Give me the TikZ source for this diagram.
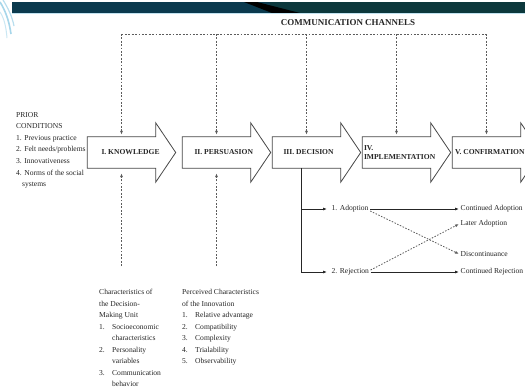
\documentclass[tikz,border=0pt]{standalone}
\usepackage{fontspec}
\setmainfont{Liberation Serif}
\usepackage{xcolor}
\usetikzlibrary{positioning,arrows.meta}
\definecolor{bar}{HTML}{0B3A4E}
\definecolor{barright}{HTML}{0C383C}
\definecolor{swirl}{HTML}{A6D6EA}
\definecolor{ink}{HTML}{262626}
\newcommand{\listno}[1]{\makebox[13bp][l]{#1.}}
\newcommand{\stagearrow}[1]{%
  \draw[ink!85, line width=0.8bp, fill=white] (#1.north east) -- ++(0,-14) -- ([xshift=20bp]#1.east)
    -- ([yshift=-14bp]#1.south east) -- (#1.south east) -- (#1.south west) -- (#1.north west) -- cycle;}
\tikzset{
  stagebody/.style={minimum width=68bp, minimum height=31bp, inner sep=0pt},
  stagetext/.style={font=\fontsize{7.6}{9}\selectfont\bfseries, text=ink, inner sep=0pt, align=left},
  small/.style={font=\fontsize{7.6}{11.6}\selectfont, text=ink, inner sep=1.5bp, align=left},
  flow/.style={draw=ink, line width=0.8bp, -{Latex[length=4bp,width=3bp]}},
  channel/.style={draw=ink!75, line width=0.9bp, dash pattern=on 1.8bp off 1.6bp, -{Latex[length=4bp,width=3bp]}},
  maybe/.style={draw=ink!75, line width=0.8bp, dash pattern=on 1.5bp off 1.5bp, -{Latex[length=4bp,width=3bp]}},
}

\begin{document}
\begin{tikzpicture}[x=1bp, y=-1bp]
  \clip (0,0) rectangle (525,391);
  \fill[white] (0,0) rectangle (525,391);
  % Header bar
  \fill[bar] (12,2) rectangle (525,13);
  \fill[barright] (270,2) rectangle (525,13);
  \fill[black] (244,2) -- (257,2) -- (300,13) -- (272,13) -- cycle;
  \draw[swirl!70, line width=0.6bp] (12,13.6) -- (525,13.6);
  \draw[swirl, line width=1.6bp] (0,2) .. controls (5,10) and (9,20) .. (11,34);
  \draw[swirl!80, line width=1.2bp] (3,0) .. controls (8,8) and (12,16) .. (14,26);
  \draw[swirl!60, line width=1bp] (0,12) .. controls (4,18) and (6,26) .. (7,38);

  % Stages
  \node[stagebody] (know) at (121.5,152.5) {};
  \node[stagebody] (pers) at (216.5,152.5) {};
  \node[stagebody] (deci) at (306.5,152.5) {};
  \node[stagebody] (impl) at (396.5,152.5) {};
  \node[stagebody] (conf) at (486.5,152.5) {};
  \foreach \s in {know,pers,deci,impl,conf} \stagearrow{\s};
  \node[stagetext, right=14bp of know.west] (knowtxt) {I. KNOWLEDGE};
  \node[stagetext, right=12bp of pers.west] (perstxt) {II. PERSUASION};
  \node[stagetext, right=11bp of deci.west] (decitxt) {III. DECISION};
  \node[stagetext, right=1.5bp of impl.west] (impltxt) {IV.\\IMPLEMENTATION};
  \node[stagetext, right=2.5bp of conf.west] (conftxt) {V. CONFIRMATION};

  % Communication channels
  \node[font=\fontsize{9}{11}\selectfont\bfseries, text=ink] (chan) at (348,23) {COMMUNICATION CHANNELS};
  \coordinate (chantop) at (0,34);
  \foreach \s/\c in {know/ch1,pers/ch2,deci/ch3,impl/ch4,conf/ch5}
    \coordinate (\c) at (\s.north |- chantop);
  \draw[channel, -] (ch1) -- (ch5);
  \foreach \s/\c in {know/ch1,pers/ch2,deci/ch3,impl/ch4,conf/ch5}
    \draw[channel, shorten >=2bp] (\c) -- (\s.north);

  % Prior conditions
  \node[small, anchor=north west, inner sep=0pt] (prior) at (16,112)
    {PRIOR\\CONDITIONS\\1. Previous practice\\2. Felt needs/problems\\3. Innovativeness\\4. Norms of the social\\\hspace*{6bp}systems};

  % Characteristics below the first two stages
  \coordinate (listtop) at (0,266);
  \node[small, anchor=north west, inner sep=0pt] (unit) at (99,289)
    {Characteristics of\\the Decision-\\Making Unit\\\listno{1}Socioeconomic\\\hspace*{13bp}characteristics\\\listno{2}Personality\\\hspace*{13bp}variables\\\listno{3}Communication\\\hspace*{13bp}behavior};
  \node[small, anchor=north west, inner sep=0pt] (innov) at (182,289)
    {Perceived Characteristics\\of the Innovation\\\listno{1}Relative advantage\\\listno{2}Compatibility\\\listno{3}Complexity\\\listno{4}Trialability\\\listno{5}Observability};
  \draw[channel, shorten >=5bp] (know.south |- listtop) -- (know.south);
  \draw[channel, shorten >=5bp] (pers.south |- listtop) -- (pers.south);

  % Decision outcomes
  \node[small, anchor=west] (ado) at (330,209) {1. Adoption};
  \node[small, anchor=west] (rej) at (330,272) {2. Rejection};
  \node[small, anchor=west] (cad) at (459,209) {Continued Adoption};
  \node[small, anchor=west] (lad) at (459,224) {Later Adoption};
  \node[small, anchor=west] (dis) at (459,254) {Discontinuance};
  \node[small, anchor=west] (cre) at (459,272) {Continued Rejection};
  \coordinate (branch) at ([xshift=-5bp]deci.south);
  \draw[flow, shorten >=3bp] (branch) |- (ado);
  \draw[flow, shorten >=3bp] (branch) |- (rej);
  \draw[flow] (ado) -- (cad);
  \draw[flow] (rej) -- (cre);
  \draw[maybe] ([yshift=-2bp]ado.east) -- (dis.west);
  \draw[maybe] ([yshift=2bp]rej.east) -- (lad.west);
\end{tikzpicture}
\end{document}
